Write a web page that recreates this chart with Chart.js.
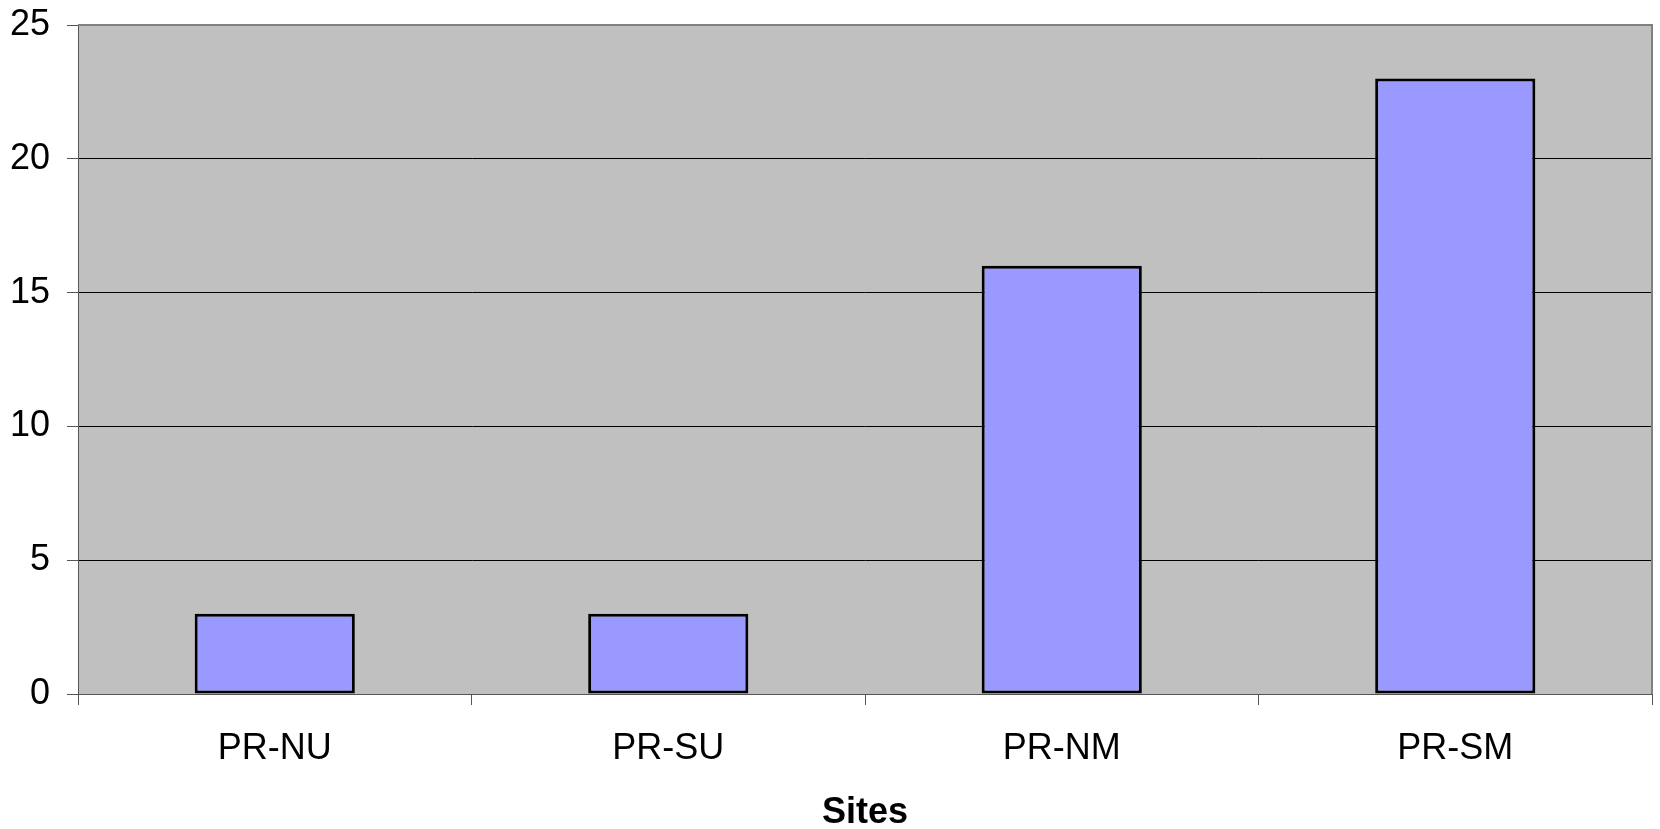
<!DOCTYPE html>
<html>
<head>
<meta charset="utf-8">
<script src="https://cdn.jsdelivr.net/npm/chart.js@4/dist/chart.umd.min.js"></script>
<style>
  html, body { margin: 0; padding: 0; background: #fff; }
  #wrap { width: 1660px; height: 829px; }
</style>
</head>
<body>
<div id="wrap"><canvas id="sitesChart" width="1660" height="829"></canvas></div>
<script>
const sites = ['PR-NU', 'PR-SU', 'PR-NM', 'PR-SM'];
const counts = [3, 3, 16, 23];
const yTicks = [0, 5, 10, 15, 20, 25];

const plotBackground = {
    id: 'plotBackground',
    beforeDraw(chart) {
        const a = chart.chartArea;
        const c = chart.ctx;
        c.save();
        c.fillStyle = '#c0c0c0';
        c.fillRect(a.left, a.top, a.right - a.left, a.bottom - a.top);
        c.restore();
    },
    afterDatasetsDraw(chart) {
        const a = chart.chartArea;
        const c = chart.ctx;
        c.save();
        c.strokeStyle = '#808080';
        c.lineWidth = 2;
        c.beginPath();
        c.moveTo(a.left, a.top);
        c.lineTo(a.right, a.top);
        c.lineTo(a.right, a.bottom);
        c.stroke();
        c.restore();
    }
};

const ctx = document.getElementById('sitesChart');
new Chart(ctx.getContext('2d'), {
    type: 'bar',
    data: {
        labels: sites,
        datasets: [{
            data: counts,
            backgroundColor: '#9999ff',
            borderColor: '#000',
            borderWidth: 3,
            borderSkipped: false,
            barPercentage: 0.407,
            categoryPercentage: 1
        }]
    },
    options: {
        responsive: false,
        animation: false,
        events: [],
        layout: { padding: { top: 25, right: 8, left: 0, bottom: 0 } },
        plugins: {
            legend: { display: false },
            tooltip: { enabled: false }
        },
        scales: {
            x: {
                afterFit(scale) {
                    scale.height = 135;
                    scale.paddingLeft = 0;
                    scale.paddingRight = 0;
                },
                grid: {
                    offset: true,
                    drawOnChartArea: false,
                    drawTicks: true,
                    tickLength: 11,
                    color: '#555'
                },
                border: { color: '#555', width: 1 },
                ticks: {
                    color: '#000',
                    padding: 22,
                    font: { family: "'Liberation Sans', Arial, sans-serif", size: 36 }
                },
                title: {
                    display: true,
                    text: 'Sites',
                    color: '#000',
                    padding: { top: 0, bottom: 0 },
                    font: { family: "'Liberation Sans', Arial, sans-serif", size: 36, weight: 'bold', lineHeight: 0.9 }
                }
            },
            y: {
                min: 0,
                max: 25,
                afterFit(scale) {
                    scale.width = 78;
                    scale.paddingTop = 0;
                    scale.paddingBottom = 0;
                },
                afterBuildTicks(scale) { scale.ticks = yTicks.map(v => ({ value: v })); },
                grid: {
                    color: '#000',
                    lineWidth: 1,
                    tickLength: 11,
                    tickColor: '#555'
                },
                border: { color: '#555', width: 1 },
                ticks: {
                    color: '#000',
                    padding: 17,
                    font: { family: "'Liberation Sans', Arial, sans-serif", size: 36 }
                }
            }
        }
    },
    plugins: [plotBackground]
});
</script>
</body>
</html>
